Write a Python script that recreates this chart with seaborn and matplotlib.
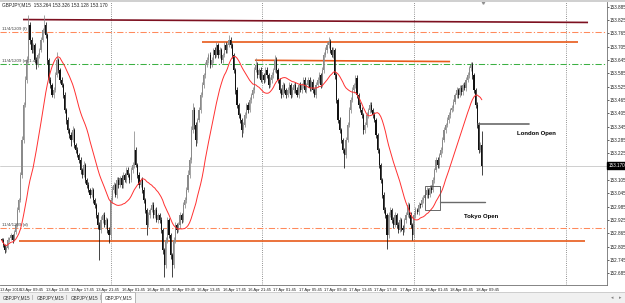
import numpy as np
import pandas as pd
import matplotlib
matplotlib.use("Agg")
import matplotlib.pyplot as plt
from matplotlib.patches import Rectangle
import seaborn as sns

sns.set_style("white")
NARROW = ['Liberation Sans Narrow', 'Liberation Sans', 'DejaVu Sans']
plt.rcParams['font.family'] = NARROW

# ---------------- data ----------------
symbol = "GBPJPY,M15"
ohlc_title = "153.264 153.326 153.128 153.170"
first_open = 152.840
close = [
    152.835, 152.813, 152.790, 152.799, 152.835, 152.844, 152.858, 152.835, 152.871, 152.903, 152.970, 153.015, 153.128, 153.285, 153.443, 153.555, 153.645, 153.803, 153.735, 153.690,
    153.713, 153.645, 153.623, 153.668, 153.690, 153.735, 153.780, 153.803, 153.758, 153.645, 153.555, 153.533, 153.488, 153.510, 153.578, 153.645, 153.600, 153.555, 153.533, 153.488,
    153.420, 153.375, 153.330, 153.308, 153.285, 153.330, 153.263, 153.240, 153.218, 153.195, 153.150, 153.128, 153.173, 153.105, 153.083, 153.060, 153.038, 153.060, 153.015, 152.993,
    152.948, 152.903, 152.880, 152.925, 152.948, 152.903, 152.925, 152.880, 152.858, 153.015, 153.060, 153.083, 153.038, 153.105, 153.083, 153.114, 153.083, 153.128, 153.105, 153.150,
    153.128, 153.105, 153.150, 153.173, 153.240, 153.173, 153.128, 153.083, 153.105, 153.060, 153.015, 152.970, 152.903, 152.948, 152.970, 152.993, 152.948, 152.970, 152.925, 152.948,
    152.925, 152.880, 152.790, 152.723, 152.835, 152.925, 152.858, 152.768, 152.723, 152.835, 152.903, 152.880, 152.903, 152.948, 152.925, 152.993, 153.015, 153.060, 153.128, 153.195,
    153.330, 153.420, 153.353, 153.285, 153.375, 153.420, 153.488, 153.533, 153.578, 153.623, 153.645, 153.668, 153.623, 153.645, 153.690, 153.668, 153.713, 153.668, 153.690, 153.645,
    153.668, 153.713, 153.690, 153.713, 153.735, 153.713, 153.668, 153.600, 153.510, 153.443, 153.398, 153.375, 153.330, 153.353, 153.398, 153.443, 153.420, 153.465, 153.488, 153.510,
    153.600, 153.623, 153.578, 153.600, 153.555, 153.578, 153.555, 153.600, 153.578, 153.533, 153.555, 153.578, 153.600, 153.645, 153.600, 153.555, 153.510, 153.488, 153.533, 153.510,
    153.488, 153.510, 153.533, 153.488, 153.510, 153.533, 153.510, 153.488, 153.533, 153.510, 153.533, 153.555, 153.510, 153.533, 153.555, 153.519, 153.546, 153.510, 153.488, 153.533,
    153.555, 153.578, 153.533, 153.600, 153.668, 153.690, 153.713, 153.726, 153.690, 153.668, 153.690, 153.578, 153.465, 153.375, 153.330, 153.285, 153.240, 153.218, 153.285, 153.353,
    153.420, 153.465, 153.510, 153.533, 153.564, 153.488, 153.443, 153.420, 153.398, 153.330, 153.353, 153.398, 153.420, 153.443, 153.420, 153.398, 153.375, 153.308, 153.240, 153.173,
    153.105, 153.038, 152.970, 152.948, 152.858, 152.948, 152.970, 152.925, 152.903, 152.948, 152.903, 152.880, 152.925, 152.889, 152.880, 152.925, 152.948, 152.993, 152.948, 152.903,
    152.858, 152.948, 152.970, 152.961, 152.993, 152.993, 153.015, 153.024, 153.038, 153.060, 153.038, 153.069, 153.060, 153.105, 153.150, 153.195, 153.173, 153.218, 153.240, 153.285,
    153.330, 153.353, 153.375, 153.398, 153.420, 153.429, 153.456, 153.488, 153.510, 153.488, 153.519, 153.501, 153.533, 153.519, 153.555, 153.578, 153.609, 153.623, 153.578, 153.510,
    153.443, 153.353, 153.240, 153.264, 153.170,
]
upper_wick_pts = [
    5, 8, 6, 10, 12, 6, 8, 5, 10, 8, 12, 10, 15, 20, 15, 18, 20, 45, 15, 12,
    10, 8, 12, 10, 8, 15, 10, 45, 12, 10, 8, 12, 10, 15, 12, 36, 10, 8, 12, 10,
    12, 10, 15, 10, 12, 20, 10, 8, 12, 10, 15, 10, 18, 10, 8, 12, 10, 15, 8, 10,
    10, 12, 15, 20, 10, 12, 15, 10, 12, 15, 20, 12, 10, 15, 12, 10, 15, 12, 10, 15,
    12, 10, 15, 12, 86, 15, 10, 12, 10, 15, 12, 10, 8, 12, 10, 15, 12, 10, 12, 10,
    10, 12, 8, 10, 15, 12, 10, 8, 10, 15, 12, 10, 12, 15, 10, 12, 15, 12, 20, 15,
    20, 32, 15, 12, 10, 15, 12, 15, 10, 12, 15, 10, 12, 15, 10, 12, 15, 10, 12, 10,
    10, 15, 12, 10, 23, 12, 10, 8, 10, 12, 10, 8, 10, 15, 12, 10, 12, 15, 10, 12,
    15, 31, 12, 10, 15, 12, 10, 15, 12, 10, 12, 15, 10, 23, 12, 10, 8, 10, 12, 10,
    10, 12, 15, 10, 12, 10, 15, 12, 10, 12, 10, 15, 12, 10, 15, 12, 10, 12, 10, 12,
    12, 15, 10, 12, 15, 12, 15, 23, 12, 15, 12, 10, 8, 10, 12, 10, 8, 10, 15, 12,
    12, 15, 12, 10, 15, 12, 10, 12, 15, 10, 12, 15, 10, 12, 15, 10, 12, 10, 8, 10,
    10, 8, 12, 15, 10, 15, 12, 10, 12, 15, 10, 12, 15, 10, 12, 10, 15, 12, 10, 12,
    10, 15, 12, 10, 12, 10, 15, 12, 10, 12, 10, 12, 15, 12, 10, 15, 12, 10, 12, 15,
    12, 10, 15, 12, 10, 12, 15, 10, 12, 10, 15, 12, 10, 12, 15, 12, 10, 13, 12, 10,
    10, 12, 15, 12, 62,
]
lower_wick_pts = [
    8, 10, 12, 8, 6, 10, 8, 12, 6, 8, 10, 8, 10, 12, 15, 10, 12, 15, 20, 12,
    15, 12, 20, 10, 12, 8, 10, 12, 15, 20, 12, 15, 10, 12, 10, 8, 12, 15, 10, 12,
    15, 20, 12, 15, 25, 10, 12, 15, 10, 12, 20, 15, 10, 12, 15, 10, 12, 10, 15, 12,
    15, 20, 135, 12, 15, 10, 12, 15, 36, 20, 12, 15, 10, 12, 15, 10, 12, 15, 10, 12,
    10, 12, 10, 15, 12, 10, 15, 12, 10, 12, 15, 12, 45, 10, 12, 10, 15, 12, 10, 12,
    12, 15, 20, 54, 15, 12, 15, 20, 54, 12, 15, 12, 10, 15, 12, 10, 12, 15, 10, 12,
    15, 12, 20, 25, 15, 10, 12, 10, 15, 12, 10, 15, 12, 10, 15, 12, 10, 12, 15, 12,
    12, 10, 15, 12, 10, 15, 12, 15, 20, 15, 12, 15, 31, 12, 10, 15, 12, 10, 12, 15,
    12, 10, 15, 12, 10, 12, 15, 10, 12, 15, 10, 12, 15, 10, 12, 15, 12, 15, 10, 12,
    12, 10, 12, 15, 10, 12, 15, 10, 12, 10, 12, 15, 10, 12, 10, 12, 15, 12, 10, 12,
    10, 12, 15, 10, 12, 10, 12, 15, 12, 10, 15, 20, 15, 12, 15, 12, 15, 59, 12, 10,
    10, 12, 10, 12, 15, 12, 15, 10, 12, 20, 12, 10, 12, 15, 10, 12, 10, 15, 12, 15,
    15, 12, 15, 12, 63, 12, 10, 15, 12, 10, 15, 12, 10, 15, 22, 10, 12, 10, 15, 12,
    23, 12, 15, 10, 12, 15, 10, 12, 10, 15, 12, 10, 12, 10, 12, 10, 15, 12, 10, 12,
    10, 12, 10, 12, 15, 10, 12, 10, 15, 12, 10, 12, 15, 10, 12, 10, 12, 15, 20, 15,
    12, 15, 12, 10, 42,
]
ma_period = 21

# drawn objects (price levels and their bar spans)
trend_bars = [13.6, 371.2]
trend_prices = [153.827, 153.814]
dashdot_levels = [153.771, 153.627, 152.889]
dashdot_colors = ['#ff8a5c', '#3cb043', '#ff8a5c']
dashdot_labels = ["11/4/1209 (f)", "11/4/1209 (e) 1.4", "11/4/1209 (d)"]
solid_bars = [[126.9, 364.9], [160.4, 283.9], [11.1, 369.3]]
solid_prices = [[153.728, 153.728], [153.644, 153.638], [152.830, 152.830]]
box_bars = [268.0, 277.5]
box_prices = [152.970, 153.078]
tokyo_line_bars = [277.5, 306.0]
tokyo_line_price = 153.006
london_line_bars = [301.6, 333.9]
london_line_price = 153.357
tokyo_text_pos = [303.5, 152.939]
london_text_pos = [338.6, 153.312]
ytick_values = [153.885, 153.825, 153.765, 153.705, 153.645, 153.585, 153.525, 153.465,
                153.405, 153.345, 153.285, 153.225, 153.105, 153.045, 152.985, 152.925,
                152.865, 152.805, 152.745, 152.685]

# ---------------- derived ----------------
n = len(close)
idx = np.arange(n)
close_a = np.array(close)
open_a = np.array([first_open] + close[:-1])
high_a = np.maximum(open_a, close_a) + np.array(upper_wick_pts) / 1000.0
low_a = np.minimum(open_a, close_a) - np.array(lower_wick_pts) / 1000.0

fri = pd.date_range("2018-04-13 06:45", "2018-04-13 23:45", freq="15min")
rest = pd.date_range("2018-04-16 00:00", periods=420, freq="15min")
times = fri.append(rest)

tick_idx = [0] + [i for i in range(n) if times[i].minute == 45 and times[i].hour % 4 == 1]
tick_lab = ["13 Apr 2018"] + [times[i].strftime("%d %b %H:%M") for i in tick_idx[1:]]
sep_idx = [i for i in range(1, 384) if times[i].hour == 0 and times[i].minute == 0]

# ---------------- figure ----------------
W, H = 625, 303
fig = plt.figure(figsize=(W / 100, H / 100), dpi=100)
fig.patch.set_facecolor('white')
ax = fig.add_axes([0, 18 / H, 607 / W, 283 / H])
ax.set_facecolor('white')

ax.set_xlim(-0.95, 383.2)
ax.set_ylim(152.6325, 153.906)

for s in sep_idx:
    ax.axvline(s, color='#707070', lw=0.6, ls=(0, (1, 1.6)), zorder=1)
ax.axhline(close[-1], color='#c8c8c8', lw=0.6, zorder=1)

for lv, col in zip(dashdot_levels, dashdot_colors):
    ax.axhline(lv, color=col, lw=0.75, ls=(0, (6, 2, 1.2, 2)), zorder=2)
for lab, lv in zip(dashdot_labels, dashdot_levels):
    ax.text(0.5, lv + 0.004, lab, fontsize=3.2, color='#404040', va='bottom', ha='left', zorder=6)

ax.plot(trend_bars, trend_prices, color='#7d1020', lw=1.2, zorder=3, solid_capstyle='butt')
for b, p in zip(solid_bars, solid_prices):
    ax.plot(b, p, color='#e85a1a', lw=1.2, zorder=3, solid_capstyle='butt')

# candles
bull = close_a > open_a
cols = np.where(bull, '#8a8a8a', '#111111')
ax.vlines(idx, low_a, high_a, colors=cols, lw=0.55, zorder=4)
body = np.maximum(np.abs(close_a - open_a), 0.002)
ax.bar(idx, body, bottom=np.minimum(open_a, close_a), width=0.72, color=cols, lw=0, zorder=4)

# moving average
ma = pd.Series(close_a).rolling(ma_period, min_periods=1).mean()
sns.lineplot(x=idx, y=ma.values, ax=ax, color='#ff3030', lw=0.7, zorder=5, legend=False)

# session annotations
ax.add_patch(Rectangle((box_bars[0], box_prices[0]), box_bars[1] - box_bars[0],
                       box_prices[1] - box_prices[0], fill=False, ec='#505050', lw=0.6, zorder=6))
ax.plot(tokyo_line_bars, [tokyo_line_price] * 2, color='#6a6a6a', lw=1.0, zorder=6)
ax.plot(london_line_bars, [london_line_price] * 2, color='#6a6a6a', lw=1.2, zorder=6)
BOLD = ['Liberation Sans', 'DejaVu Sans']
ax.text(tokyo_text_pos[0], tokyo_text_pos[1], "Tokyo Open", fontsize=4.3, fontweight='bold',
        ha='center', va='center', color='black', zorder=7, family=BOLD)
ax.text(london_text_pos[0], london_text_pos[1], "London Open", fontsize=4.3, fontweight='bold',
        ha='center', va='center', color='black', zorder=7, family=BOLD)

# axes styling
for sp in ['top', 'left']:
    ax.spines[sp].set_visible(False)
for sp in ['right', 'bottom']:
    ax.spines[sp].set_color('#707070')
    ax.spines[sp].set_linewidth(0.6)

ax.yaxis.tick_right()
ax.set_yticks(ytick_values)
ax.set_yticklabels([f"{v:.3f}" for v in ytick_values])
ax.tick_params(axis='y', length=1.2, width=0.5, pad=0.6, labelsize=3.3, colors='#202020', direction='out')

ax.set_xticks(tick_idx)
ax.set_xticklabels([""] + tick_lab[1:])
for t in ax.get_xticklabels():
    t.set_ha('left')
ax.tick_params(axis='x', length=1.8, width=0.5, pad=0.6, labelsize=3.0, colors='#202020', direction='out')
# first (date) label starts at the window's left edge
ax.annotate(tick_lab[0], xy=(0, 0), xycoords='axes fraction',
            xytext=(0.3, -1.8), textcoords='offset points', fontsize=2.8, color='#202020',
            ha='left', va='top', annotation_clip=False)
ax.set_xlabel('')
ax.set_ylabel('')

# current price marker
ax.annotate(f"{close[-1]:.3f}", xy=(1.0, close[-1]), xycoords=('axes fraction', 'data'),
            xytext=(1.0, 0), textcoords='offset points', fontsize=3.3, color='white',
            va='center', ha='left', annotation_clip=False,
            bbox=dict(boxstyle='square,pad=0.2', fc='black', ec='black'))

# chart shift marker
ax.plot([n], [153.906], marker='v', ms=2.5, color='#909090', clip_on=False, zorder=8)

# title
fig.text(2 / W, 1 - 5 / H, f"{symbol}  {ohlc_title}", fontsize=3.4, color='#202020', va='center', ha='left')
fig.patches.append(Rectangle((0, 1 - 1.6 / H), 1, 1.6 / H, transform=fig.transFigure,
                             fc='#d0d0d0', ec='none'))

# tab strip
fig.patches.append(Rectangle((0, 0), 1, 11 / H, transform=fig.transFigure, fc='#f0f0f0', ec='none', zorder=0))
fig.lines.append(plt.Line2D([0, 1], [11 / H, 11 / H], transform=fig.transFigure, color='#c0c0c0', lw=0.5))
fig.patches.append(Rectangle((101 / W, 0), 34 / W, 11 / H, transform=fig.transFigure,
                             fc='white', ec='#9a9a9a', lw=0.5, zorder=1))
tab_x = [3, 37, 71, 105]
for k, tx in enumerate(tab_x):
    fig.text(tx / W, 5 / H, symbol, fontsize=3.3, color='#303030', va='center', ha='left')
    if k < 3:
        fig.text((tx + 29) / W, 5 / H, "|", fontsize=4, color='#909090', va='center', ha='left')
fig.text(611 / W, 5 / H, "\u25c2", fontsize=3.5, color='#808080', va='center', family=['DejaVu Sans'])
fig.text(619 / W, 5 / H, "\u25b8", fontsize=3.5, color='#808080', va='center', family=['DejaVu Sans'])

fig.savefig("out.png", dpi=100)
